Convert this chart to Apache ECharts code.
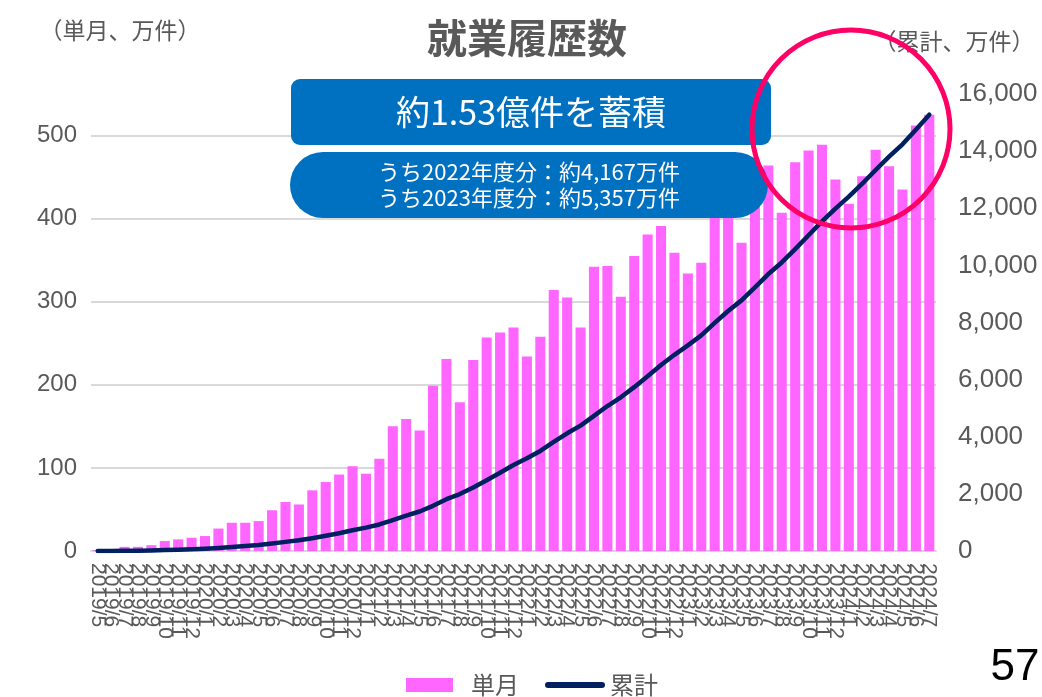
<!DOCTYPE html>
<html>
<head>
<meta charset="utf-8">
<script src="https://cdn.jsdelivr.net/npm/echarts@6/dist/echarts.min.js"></script>
<style>
html,body{margin:0;padding:0;background:#fff;}
#c{width:1042px;height:697px;}
</style>
</head>
<body>
<div id="c"></div>
<script>
// Categories (month labels)
const categories = [
  '2019/5','2019/6','2019/7','2019/8','2019/9','2019/10','2019/11','2019/12',
  '2020/1','2020/2','2020/3','2020/4','2020/5','2020/6','2020/7','2020/8','2020/9','2020/10','2020/11','2020/12',
  '2021/1','2021/2','2021/3','2021/4','2021/5','2021/6','2021/7','2021/8','2021/9','2021/10','2021/11','2021/12',
  '2022/1','2022/2','2022/3','2022/4','2022/5','2022/6','2022/7','2022/8','2022/9','2022/10','2022/11','2022/12',
  '2023/1','2023/2','2023/3','2023/4','2023/5','2023/6','2023/7','2023/8','2023/9','2023/10','2023/11','2023/12',
  '2024/1','2024/2','2024/3','2024/4','2024/5','2024/6','2024/7'
];
// Monthly values (万件)
const monthly = [
  1, 2, 5, 5, 7, 12, 14, 16,
  18, 27, 34, 34, 36, 49, 59, 56, 73, 83, 92, 102,
  93, 111, 150, 159, 145, 199, 231, 179, 230, 257, 263, 269,
  234, 258, 314, 305, 269, 342, 343, 306, 355, 381, 391, 359,
  334, 347, 435, 420, 371, 457, 464, 407, 468, 482, 489, 447,
  418, 451, 483, 463, 435, 512, 525
];
// Cumulative values (万件)
const cumulative = [
  1, 3, 8, 13, 20, 32, 46, 62,
  80, 107, 141, 175, 211, 260, 319, 375, 448, 531, 623, 725,
  818, 929, 1079, 1238, 1383, 1582, 1813, 1992, 2222, 2479, 2742, 3011,
  3245, 3503, 3817, 4122, 4391, 4733, 5076, 5382, 5737, 6118, 6509, 6868,
  7202, 7549, 7984, 8404, 8775, 9232, 9696, 10103, 10571, 11053, 11542, 11989,
  12407, 12858, 13341, 13804, 14239, 14751, 15276
];
const seriesNames = ['単月', '累計'];
const titleText = '就業履歴数';
const leftAxisName = '（単月、万件）';
const rightAxisName = '（累計、万件）';
const box1Text = '約1.53億件を蓄積';
const box2Lines = ['うち2022年度分：約4,167万件', 'うち2023年度分：約5,357万件'];
const pageNumber = '57';

const JP = '"Noto Sans CJK JP", "Noto Sans", sans-serif';
const NUM = '"Liberation Sans", Arial, sans-serif';
const GRAY = '#595959';

const chart = echarts.init(document.getElementById('c'), null, {renderer: 'canvas'});
chart.setOption({
  animation: false,
  backgroundColor: '#ffffff',
  grid: {left: 91, right: 106, top: 94, bottom: 146, containLabel: false},
  legend: {
    data: [
      {name: seriesNames[0], icon: 'path://M0,0 L47,0 L47,14 L0,14 Z M60,7 L60,7.01 Z'},
      {name: seriesNames[1], icon: 'path://M3,0 L57,0 A3,3 0 0 1 57,6 L3,6 A3,3 0 0 1 3,0 Z'}
    ],
    bottom: -5, left: 401, itemWidth: 60, itemHeight: 14, itemGap: 26,
    textStyle: {fontFamily: JP, fontSize: 24, color: GRAY}
  },
  xAxis: {
    type: 'category', data: categories,
    axisTick: {show: false},
    axisLine: {lineStyle: {color: '#d9d9d9', width: 2}},
    axisLabel: {interval: 0, rotate: -90, fontFamily: NUM, fontSize: 21, color: GRAY, margin: 12}
  },
  yAxis: [
    {
      type: 'value', min: 0, max: 550, interval: 100,
      axisLine: {show: false}, axisTick: {show: false},
      axisLabel: {showMaxLabel: false, fontFamily: NUM, fontSize: 24, color: GRAY, margin: 14},
      splitLine: {show: true, showMaxLine: false, lineStyle: {color: '#d9d9d9', width: 2}}
    },
    {
      type: 'value', min: 0, max: 16000, interval: 2000, position: 'right',
      axisLine: {show: false}, axisTick: {show: false},
      axisLabel: {fontFamily: NUM, fontSize: 26, color: GRAY, margin: 22,
        formatter: v => v.toLocaleString('en-US')},
      splitLine: {show: false}
    }
  ],
  series: [
    {
      name: seriesNames[0], type: 'bar', data: monthly, yAxisIndex: 0,
      barCategoryGap: '25%',
      itemStyle: {color: '#ff66ff'}
    },
    {
      name: seriesNames[1], type: 'line', data: cumulative, yAxisIndex: 1,
      symbol: 'none', smooth: false,
      lineStyle: {color: '#002060', width: 4.5, cap: 'round', join: 'round'},
      itemStyle: {color: '#002060'}
    }
  ],
  graphic: [
    {type: 'text', x: 527, y: 38, style: {text: titleText, font: 'bold 40px ' + JP, fill: GRAY, align: 'center', verticalAlign: 'middle'}},
    {type: 'text', x: 120, y: 30, style: {text: leftAxisName, font: '23px ' + JP, fill: GRAY, align: 'center', verticalAlign: 'middle'}},
    {type: 'text', x: 954, y: 41, style: {text: rightAxisName, font: '23px ' + JP, fill: GRAY, align: 'center', verticalAlign: 'middle'}},
    {type: 'rect', shape: {x: 291, y: 79, width: 480, height: 66, r: 9}, style: {fill: '#0070c0'}, z: 100},
    {type: 'text', x: 531, y: 112, style: {text: box1Text, font: '34px ' + JP, fill: '#ffffff', align: 'center', verticalAlign: 'middle'}, z: 101},
    {type: 'rect', shape: {x: 290, y: 152, width: 478, height: 66, r: 33}, style: {fill: '#0070c0'}, z: 100},
    {type: 'text', x: 529, y: 172, style: {text: box2Lines[0], font: '22px ' + JP, fill: '#ffffff', align: 'center', verticalAlign: 'middle'}, z: 101},
    {type: 'text', x: 529, y: 198, style: {text: box2Lines[1], font: '22px ' + JP, fill: '#ffffff', align: 'center', verticalAlign: 'middle'}, z: 101},
    {type: 'circle', shape: {cx: 851, cy: 129, r: 99}, style: {fill: 'none', stroke: '#ff0066', lineWidth: 5}, z: 102},
    {type: 'text', x: 1015, y: 668, style: {text: pageNumber, font: '44px ' + NUM, fill: '#000000', align: 'center', verticalAlign: 'middle'}}
  ]
});
</script>
</body>
</html>
